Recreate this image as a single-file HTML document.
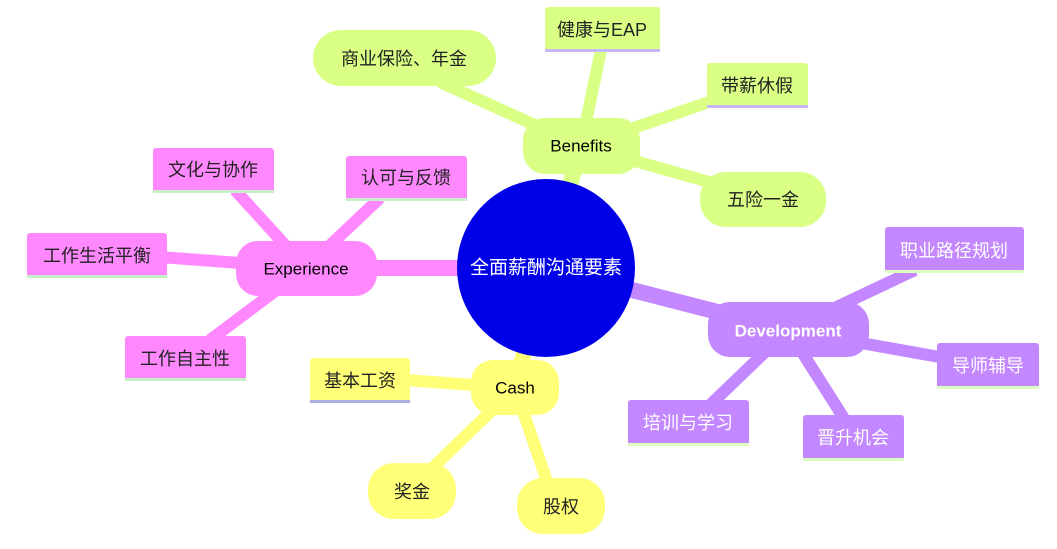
<!DOCTYPE html>
<html><head><meta charset="utf-8"><style>
html,body{margin:0;padding:0;background:#fff;}
svg text{font-family:"Liberation Sans","Noto Sans CJK SC",sans-serif;dominant-baseline:central;text-anchor:middle;}
</style></head><body>
<svg width="1057" height="544" viewBox="0 0 1057 544" xmlns="http://www.w3.org/2000/svg">
<g stroke-linecap="butt">
<line x1="546" y1="268" x2="581" y2="146" stroke="#d9ff85" stroke-width="16"/>
<line x1="546" y1="268" x2="788" y2="330" stroke="#c387ff" stroke-width="16"/>
<line x1="546" y1="268" x2="306" y2="268" stroke="#ff88ff" stroke-width="16"/>
<line x1="546" y1="268" x2="515" y2="388" stroke="#ffff78" stroke-width="16"/>
<line x1="581" y1="146" x2="440" y2="82" stroke="#d9ff85" stroke-width="12"/>
<line x1="581" y1="146" x2="602" y2="45" stroke="#d9ff85" stroke-width="12"/>
<line x1="581" y1="146" x2="715" y2="100" stroke="#d9ff85" stroke-width="12"/>
<line x1="581" y1="146" x2="720" y2="185" stroke="#d9ff85" stroke-width="12"/>
<line x1="788" y1="330" x2="915" y2="270" stroke="#c387ff" stroke-width="12"/>
<line x1="788" y1="330" x2="945" y2="358" stroke="#c387ff" stroke-width="12"/>
<line x1="788" y1="330" x2="710" y2="405" stroke="#c387ff" stroke-width="12"/>
<line x1="788" y1="330" x2="845" y2="420" stroke="#c387ff" stroke-width="12"/>
<line x1="306" y1="268" x2="235" y2="190" stroke="#ff88ff" stroke-width="12"/>
<line x1="306" y1="268" x2="380" y2="198" stroke="#ff88ff" stroke-width="12"/>
<line x1="306" y1="268" x2="160" y2="257" stroke="#ff88ff" stroke-width="12"/>
<line x1="306" y1="268" x2="210" y2="340" stroke="#ff88ff" stroke-width="12"/>
<line x1="515" y1="388" x2="405" y2="380" stroke="#ffff78" stroke-width="12"/>
<line x1="515" y1="388" x2="420" y2="480" stroke="#ffff78" stroke-width="12"/>
<line x1="515" y1="388" x2="550" y2="490" stroke="#ffff78" stroke-width="12"/>
</g>

<circle cx="546" cy="268" r="89" fill="#0000e8"/>
<text x="546" y="268" fill="#fff" font-size="19">全面薪酬沟通要素</text>

<rect x="523" y="118" width="117" height="56" rx="22" fill="#d9ff85"/>
<text x="581" y="146" font-size="17" fill="#000">Benefits</text>
<rect x="313" y="30" width="183" height="56" rx="28" fill="#d9ff85"/>
<text x="404" y="59" font-size="18" fill="#222">商业保险、年金</text>
<rect x="545" y="7" width="115" height="45" rx="3" fill="#d9ff85"/>
<rect x="545" y="49" width="115" height="3" fill="#c8b8ff"/>
<text x="602" y="30" font-size="18" fill="#222">健康与EAP</text>
<rect x="707" y="63" width="101" height="45" rx="3" fill="#d9ff85"/>
<rect x="707" y="105" width="101" height="3" fill="#c8b8ff"/>
<text x="757" y="86" font-size="18" fill="#222">带薪休假</text>
<rect x="700" y="172" width="126" height="55" rx="26" fill="#d9ff85"/>
<text x="763" y="200" font-size="18" fill="#222">五险一金</text>

<rect x="708" y="302" width="161" height="55" rx="22" fill="#c387ff"/>
<text x="788" y="331" font-size="17" fill="#fff" font-weight="bold">Development</text>
<rect x="885" y="227" width="139" height="45" rx="3" fill="#c387ff"/>
<rect x="885" y="270" width="139" height="3" fill="#dcffc0"/>
<text x="954" y="251" font-size="18" fill="#fff">职业路径规划</text>
<rect x="937" y="343" width="102" height="45" rx="3" fill="#c387ff"/>
<rect x="937" y="386" width="102" height="3" fill="#dcffc0"/>
<text x="988" y="366" font-size="18" fill="#fff">导师辅导</text>
<rect x="628" y="400" width="121" height="45" rx="3" fill="#c387ff"/>
<rect x="628" y="443" width="121" height="3" fill="#dcffc0"/>
<text x="688" y="423" font-size="18" fill="#fff">培训与学习</text>
<rect x="803" y="415" width="101" height="45" rx="3" fill="#c387ff"/>
<rect x="803" y="458" width="101" height="3" fill="#dcffc0"/>
<text x="853" y="438" font-size="18" fill="#fff">晋升机会</text>

<rect x="236" y="241" width="141" height="55" rx="22" fill="#ff88ff"/>
<text x="306" y="269" font-size="17" fill="#000">Experience</text>
<rect x="153" y="148" width="121" height="45" rx="3" fill="#ff88ff"/>
<rect x="153" y="190" width="121" height="3" fill="#c8f0c8"/>
<text x="213" y="170" font-size="18" fill="#222">文化与协作</text>
<rect x="346" y="156" width="121" height="45" rx="3" fill="#ff88ff"/>
<rect x="346" y="198" width="121" height="3" fill="#c8f0c8"/>
<text x="406" y="178" font-size="18" fill="#222">认可与反馈</text>
<rect x="27" y="233" width="140" height="45" rx="3" fill="#ff88ff"/>
<rect x="27" y="275" width="140" height="3" fill="#c8f0c8"/>
<text x="97" y="256" font-size="18" fill="#222">工作生活平衡</text>
<rect x="125" y="336" width="121" height="45" rx="3" fill="#ff88ff"/>
<rect x="125" y="378" width="121" height="3" fill="#c8f0c8"/>
<text x="185" y="359" font-size="18" fill="#222">工作自主性</text>

<rect x="471" y="360" width="88" height="55" rx="22" fill="#ffff78"/>
<text x="515" y="388" font-size="17" fill="#000">Cash</text>
<rect x="310" y="358" width="100" height="45" rx="3" fill="#ffff78"/>
<rect x="310" y="400" width="100" height="3" fill="#a8b0e0"/>
<text x="360" y="381" font-size="18" fill="#222">基本工资</text>
<rect x="368" y="463" width="88" height="56" rx="26" fill="#ffff78"/>
<text x="412" y="492" font-size="18" fill="#222">奖金</text>
<rect x="517" y="478" width="88" height="56" rx="26" fill="#ffff78"/>
<text x="561" y="507" font-size="18" fill="#222">股权</text>
</svg>
</body></html>
